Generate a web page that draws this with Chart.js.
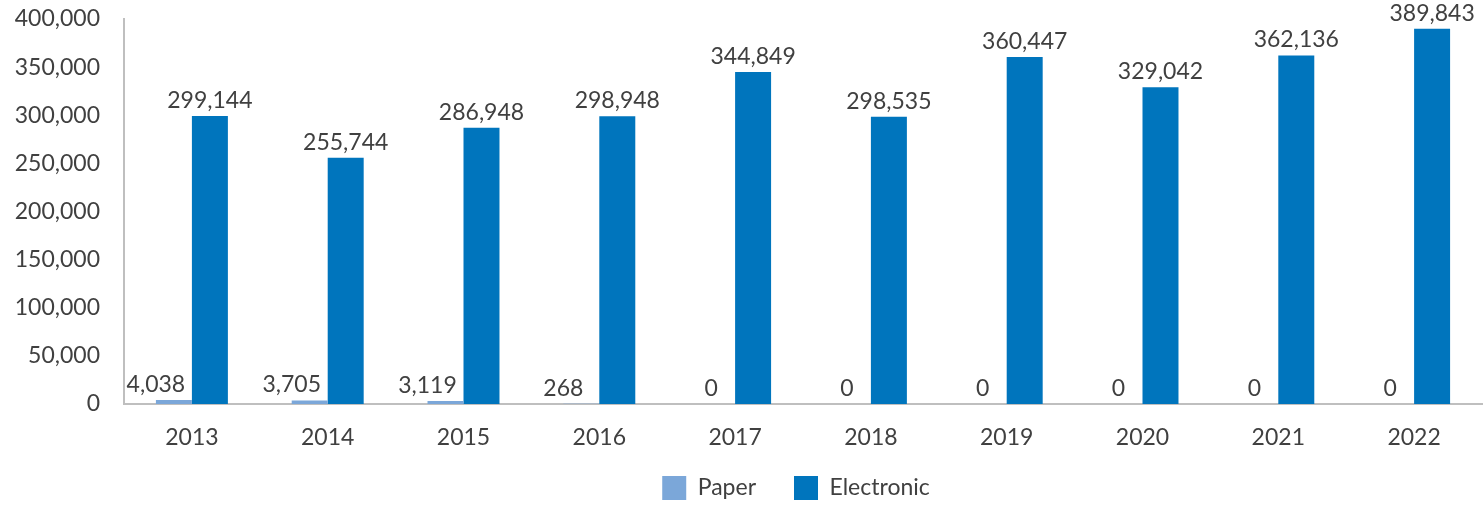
<!DOCTYPE html>
<html>
<head>
<meta charset="utf-8">
<script src="https://cdn.jsdelivr.net/npm/chart.js@4/dist/chart.umd.min.js"></script>
<style>
  html, body { margin: 0; padding: 0; background: #ffffff; }
  #wrap { width: 1483px; height: 506px; position: relative; }
</style>
</head>
<body>
<div id="wrap"><canvas id="c"></canvas></div>
<script>
const categories = ['2013','2014','2015','2016','2017','2018','2019','2020','2021','2022'];
const paperValues = [4038, 3705, 3119, 268, 0, 0, 0, 0, 0, 0];
const electronicValues = [299144, 255744, 286948, 298948, 344849, 298535, 360447, 329042, 362136, 389843];
const yTicks = [0, 50000, 100000, 150000, 200000, 250000, 300000, 350000, 400000];

const FONT = 'Lato, "Open Sans", sans-serif';
const TEXT = '#404040';
const FS = 23;

const valueLabels = {
  id: 'valueLabels',
  afterDatasetsDraw(chart) {
    const ctx = chart.ctx;
    ctx.save();
    ctx.font = FS + 'px ' + FONT;
    ctx.fillStyle = TEXT;
    ctx.textAlign = 'center';
    ctx.textBaseline = 'bottom';
    chart.data.datasets.forEach((ds, i) => {
      const meta = chart.getDatasetMeta(i);
      meta.data.forEach((bar, j) => {
        const v = ds.data[j];
        let dx = 0;
        if (i === 0) dx = v === 0 ? -6 : -18;
        ctx.fillText(v.toLocaleString('en-US'), bar.x + dx, bar.y - 4);
      });
    });
    ctx.restore();
  }
};

// enlarge the legend box upward and centre it under the plot area
const legendShift = {
  id: 'legendShift',
  afterLayout(chart) {
    const lg = chart.legend;
    if (lg) {
      lg.top -= 18;
      lg.height = lg.bottom - lg.top;
      lg.left += 110;
      lg.width = lg.right - lg.left;
    }
  }
};

new Chart(document.getElementById('c'), {
  type: 'bar',
  data: {
    labels: categories,
    datasets: [
      { label: 'Paper', data: paperValues, backgroundColor: '#7ba7d9' },
      { label: 'Electronic', data: electronicValues, backgroundColor: '#0075bd' }
    ]
  },
  options: {
    responsive: true,
    maintainAspectRatio: false,
    devicePixelRatio: 1,
    animation: false,
    layout: { padding: { top: 19, right: 1, left: 0, bottom: 0 } },
    datasets: { bar: { barPercentage: 1, categoryPercentage: 0.53 } },
    scales: {
      x: {
        grid: { display: false, drawTicks: false },
        border: { display: true, color: '#bfbfbf', width: 2 },
        ticks: { color: TEXT, font: { family: FONT, size: FS }, padding: 20 },
        afterFit(axis) { axis.height = 52; }
      },
      y: {
        min: 0, max: 400000,
        grid: { display: false, drawTicks: false },
        border: { display: true, color: '#bfbfbf', width: 2 },
        afterBuildTicks(axis) { axis.ticks = yTicks.map(v => ({ value: v })); },
        afterFit(axis) { axis.paddingTop = 12; axis.paddingBottom = 0; axis.width = 124; },
        ticks: {
          color: TEXT, font: { family: FONT, size: FS }, padding: 24,
          callback: v => v.toLocaleString('en-US')
        }
      }
    },
    plugins: {
      legend: {
        position: 'bottom',
        maxHeight: 50,
        labels: {
          color: TEXT, font: { family: FONT, size: FS },
          boxWidth: 24, boxHeight: 24, padding: 38, useBorderRadius: false
        }
      },
      tooltip: { enabled: false }
    }
  },
  plugins: [valueLabels, legendShift]
});
</script>
</body>
</html>
